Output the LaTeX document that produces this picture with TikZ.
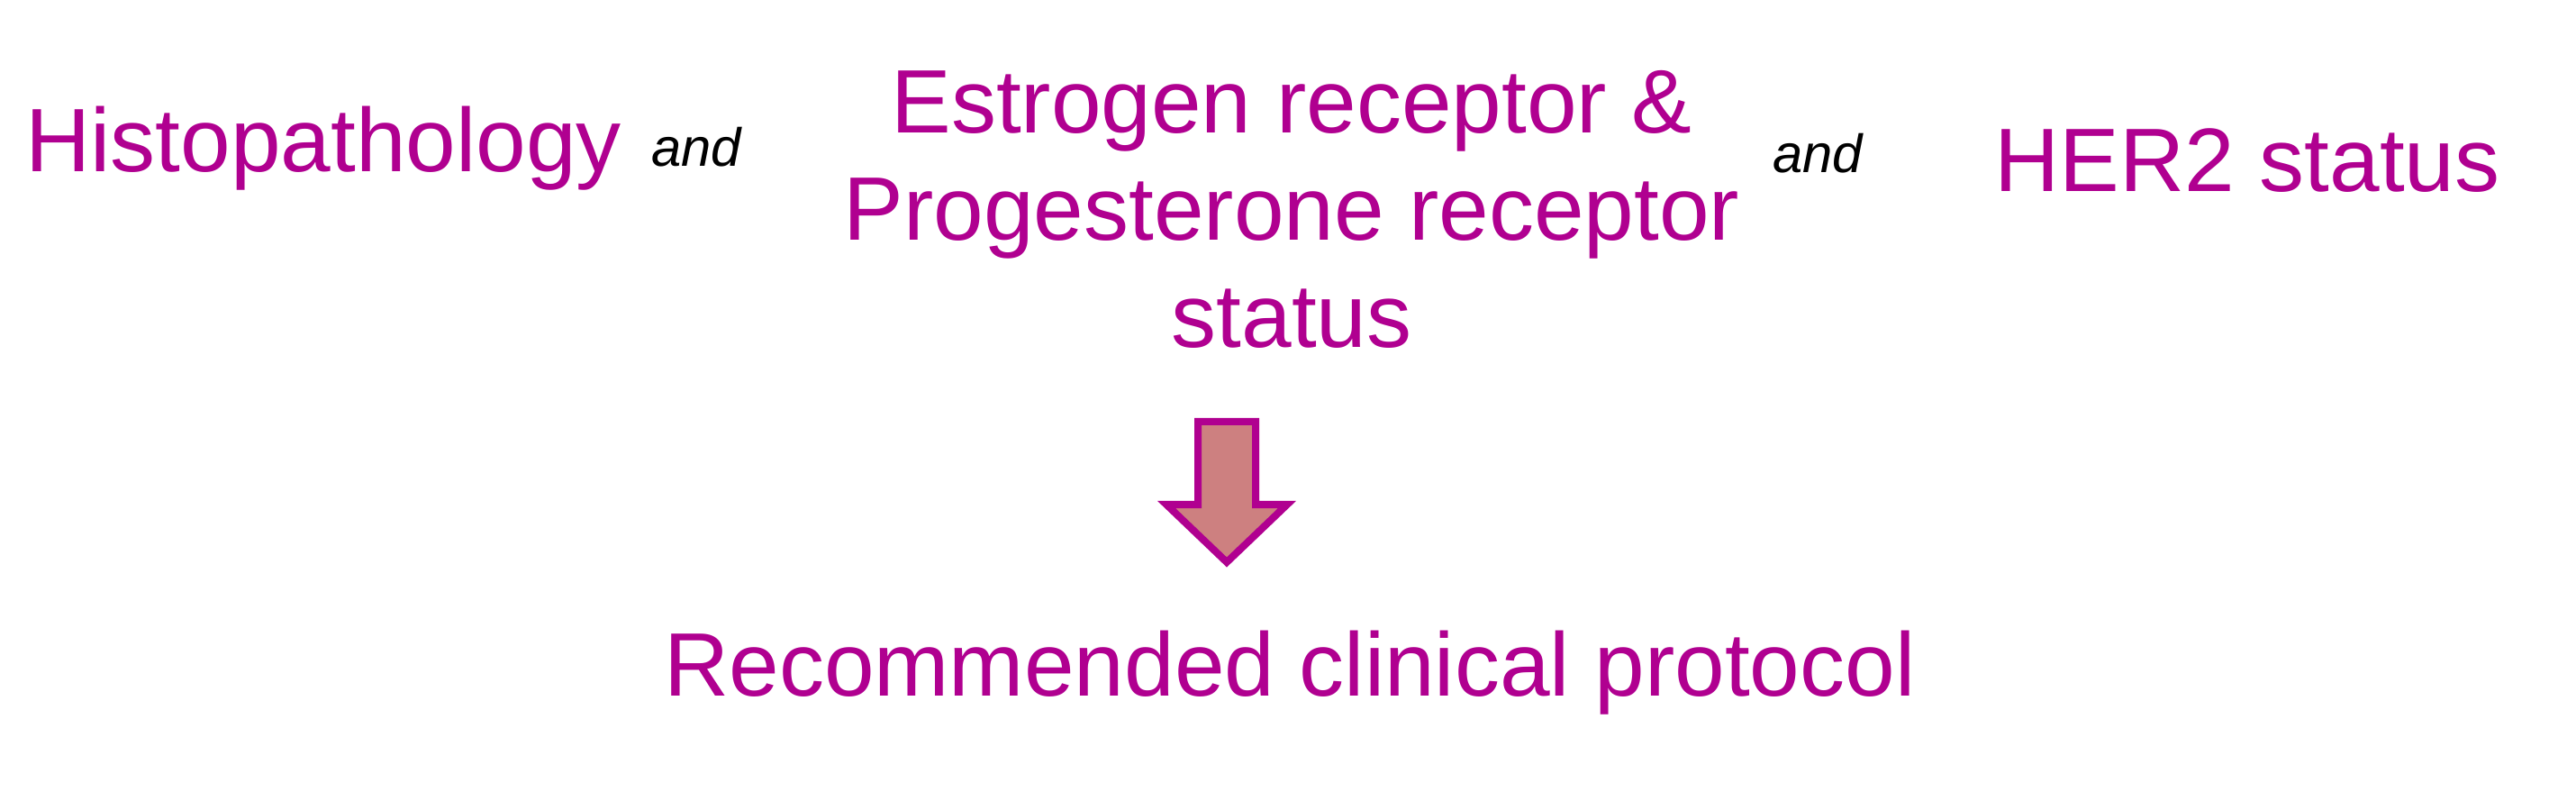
\documentclass[tikz,border=0pt]{standalone}
\usepackage{fontspec}
\setmainfont{Liberation Sans}
\definecolor{labelmagenta}{RGB}{176,0,144}
\definecolor{arrowsalmon}{RGB}{205,128,128}
\begin{document}
\begin{tikzpicture}[
    factor/.style={inner sep=0pt, text=labelmagenta, font=\fontsize{28.45}{33.9}\selectfont, anchor=base},
    conj/.style={inner sep=0pt, font=\fontsize{17}{20}\selectfont\itshape, anchor=base}
  ]

  % Kader
  \useasboundingbox (0,0) rectangle (28.6,8.89);

  % Factoren
  \node[factor] (histo) at (3.59,6.98) {Histopathology};
  \node[conj] (and1) at (7.73,7.04) {and};
  \node[factor, align=center] (erpr) at (14.34,5.03)
    {Estrogen receptor \&\\Progesterone receptor\\status};
  \node[conj] (and2) at (20.18,6.97) {and};
  \node[factor] (her2) at (24.95,6.76) {HER2 status};

  % Blokpijl
  \draw[line width=2.28pt, line join=miter, draw=labelmagenta, fill=arrowsalmon]
    (13.30,4.21) -- (13.94,4.21) -- (13.94,3.29) -- (14.29,3.29)
    -- (13.62,2.65) -- (12.95,3.29) -- (13.30,3.29) -- cycle;

  % Uitkomst
  \node[factor] (protocol) at (14.32,1.16) {Recommended clinical protocol};

\end{tikzpicture}
\end{document}
